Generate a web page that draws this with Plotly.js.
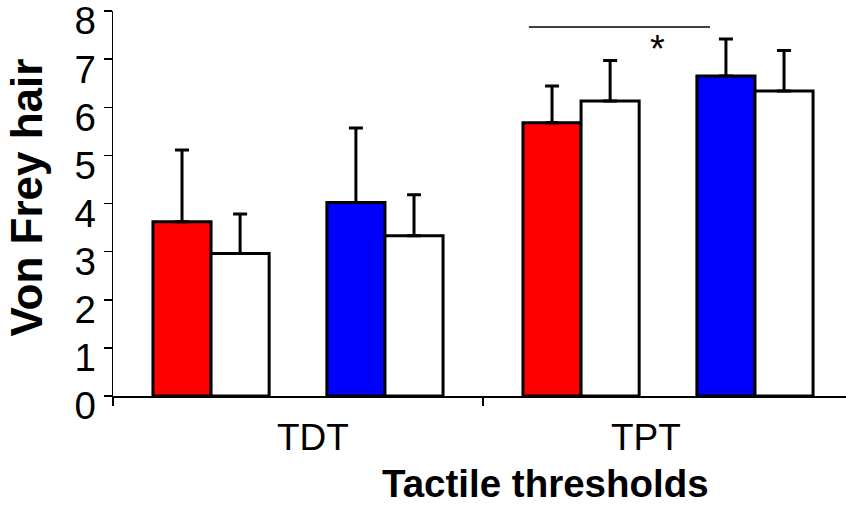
<!DOCTYPE html>
<html>
<head>
<meta charset="utf-8">
<script src="https://cdn.plot.ly/plotly-3.0.1.min.js"></script>
<style>
html,body{margin:0;padding:0;background:#fff;overflow:hidden;}
#chart{width:846px;height:510px;}
</style>
</head>
<body>
<div id="chart"></div>
<script>
// ---- data ----
var categories = ['TDT', 'TPT'];
var redValues    = [3.62, 5.68];
var redErrors    = [1.49, 0.76];
var white1Values = [2.96, 6.13];
var white1Errors = [0.82, 0.84];
var blueValues   = [4.02, 6.65];
var blueErrors   = [1.55, 0.77];
var white2Values = [3.33, 6.34];
var white2Errors = [0.85, 0.84];
var yTickValues  = [0, 1, 2, 3, 4, 5, 6, 7, 8];
var yTitle = 'Von Frey hair';
var xTitle = 'Tactile thresholds';
var sigLabel = '*';

var FONT = 'Arial, "Liberation Sans", sans-serif';
var slot = 0.157;

function barTrace(vals, errs, color, offset) {
  return {
    type: 'bar',
    x: categories,
    y: vals,
    width: slot,
    offset: offset,
    marker: {color: color, line: {color: '#000', width: 3}},
    error_y: {type: 'data', array: errs, symmetric: false, arrayminus: errs.map(function(){return 0;}),
              color: '#000', thickness: 3, width: 7},
    hoverinfo: 'skip',
    showlegend: false
  };
}

var traces = [
  barTrace(redValues, redErrors, '#ff0000', -0.392),
  barTrace(white1Values, white1Errors, '#ffffff', -0.235),
  barTrace(blueValues, blueErrors, '#0000ff', 0.078),
  barTrace(white2Values, white2Errors, '#ffffff', 0.235)
];

var layout = {
  width: 846,
  height: 510,
  margin: {l: 113, r: 0, t: 11, b: 114, pad: 0},
  paper_bgcolor: '#fff',
  plot_bgcolor: '#fff',
  barmode: 'overlay',
  showlegend: false,
  font: {family: FONT, color: '#000'},
  xaxis: {
    type: 'category',
    range: [-0.5, 1.481],
    showline: true, linecolor: '#000', linewidth: 1.5,
    ticks: 'outside', tickson: 'boundaries', ticklen: 8, tickwidth: 1.5, tickcolor: '#000',
    showticklabels: false,
    showgrid: false, zeroline: false, fixedrange: true
  },
  yaxis: {
    range: [0, 8],
    tickvals: yTickValues,
    ticktext: yTickValues.map(String),
    showline: true, linecolor: '#000', linewidth: 1.5,
    ticks: 'outside', ticklen: 8, tickwidth: 1.5, tickcolor: '#000',
    tickfont: {family: FONT, size: 38.5, color: '#000'},
    ticklabelshift: 10,
    ticklabeloverflow: 'allow',
    showgrid: false, zeroline: false, fixedrange: true
  },
  shapes: [
    {type: 'line', xref: 'x', yref: 'y', x0: 0.624, x1: 1.1135, y0: 7.67, y1: 7.67,
     line: {color: '#000', width: 1.5}}
  ],
  annotations: [
    {text: categories[0], xref: 'x', yref: 'paper', x: 0.0405, y: -0.109,
     xanchor: 'center', yanchor: 'middle', showarrow: false, font: {family: FONT, size: 37, color: '#000'}},
    {text: categories[1], xref: 'x', yref: 'paper', x: 0.9405, y: -0.109,
     xanchor: 'center', yanchor: 'middle', showarrow: false, font: {family: FONT, size: 37, color: '#000'}},
    {text: '<b>' + xTitle + '</b>', xref: 'paper', yref: 'paper', x: (545 - 113) / 733, y: -0.226,
     xanchor: 'center', yanchor: 'middle', showarrow: false, font: {family: FONT, size: 38.5, color: '#000'}},
    {text: '<b>' + yTitle + '</b>', xref: 'paper', yref: 'paper', x: (26 - 113) / 733, y: 0.5156,
     xanchor: 'center', yanchor: 'middle', textangle: -90, showarrow: false, font: {family: FONT, size: 44, color: '#000'}},
    {text: sigLabel, xref: 'x', yref: 'y', x: 0.972, y: 7.22,
     xanchor: 'center', yanchor: 'middle', showarrow: false, font: {family: FONT, size: 38, color: '#000'}}
  ]
};

Plotly.newPlot('chart', traces, layout, {displayModeBar: false, staticPlot: true});
</script>
</body>
</html>
